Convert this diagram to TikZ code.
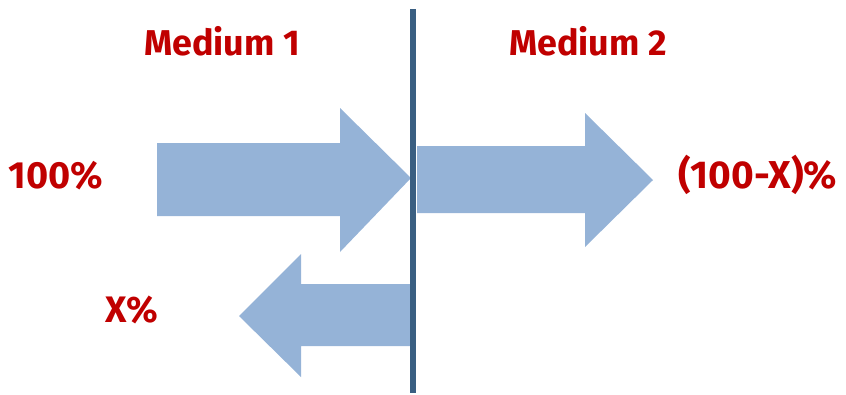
\documentclass[tikz,border=0pt]{standalone}
\usepackage{fontspec}
\setmainfont{Fira Sans}
\definecolor{txtred}{HTML}{C00000}
\definecolor{arrowblue}{HTML}{95B3D7}
\definecolor{linedark}{HTML}{3A5F82}
\begin{document}
\begin{tikzpicture}[x=1bp,y=-1bp,
  lbl/.style={text=txtred,font=\bfseries\fontsize{36}{40}\selectfont,anchor=base,inner sep=0pt},
  pct/.style={text=txtred,font=\bfseries\fontsize{38}{42}\selectfont,anchor=base,inner sep=0pt},
  arr/.style={fill=arrowblue,draw=none}]
\useasboundingbox (0,0) rectangle (846,394);
% arrows
\fill[arr] (157,143) -- (340,143) -- (340,108) -- (411,178) -- (340,252) -- (340,216) -- (157,216) -- cycle;
\fill[arr] (417,146) -- (585,146) -- (585,113) -- (653,180) -- (585,247) -- (585,213) -- (417,213) -- cycle;
\fill[arr] (410,284) -- (301,284) -- (301,254) -- (239,316) -- (301,377) -- (301,346) -- (410,346) -- cycle;
% interface line
\coordinate (ltop) at (413,9);
\coordinate (lbot) at (413,393);
\draw[linedark,line width=6bp] (ltop) -- (lbot);
% labels
\node[lbl] (m1) at (222,55) {Medium 1};
\node[lbl] (m2) at (588,55) {Medium 2};
\node[pct] (p100) at (56,188) {100\%};
\node[pct,font=\bfseries\fontsize{39}{42}\selectfont] (p100x) at (758,188) {(100-X)\%};
\node[pct,font=\bfseries\fontsize{37}{40}\selectfont] (px) at (132,322) {X\%};
\end{tikzpicture}
\end{document}
